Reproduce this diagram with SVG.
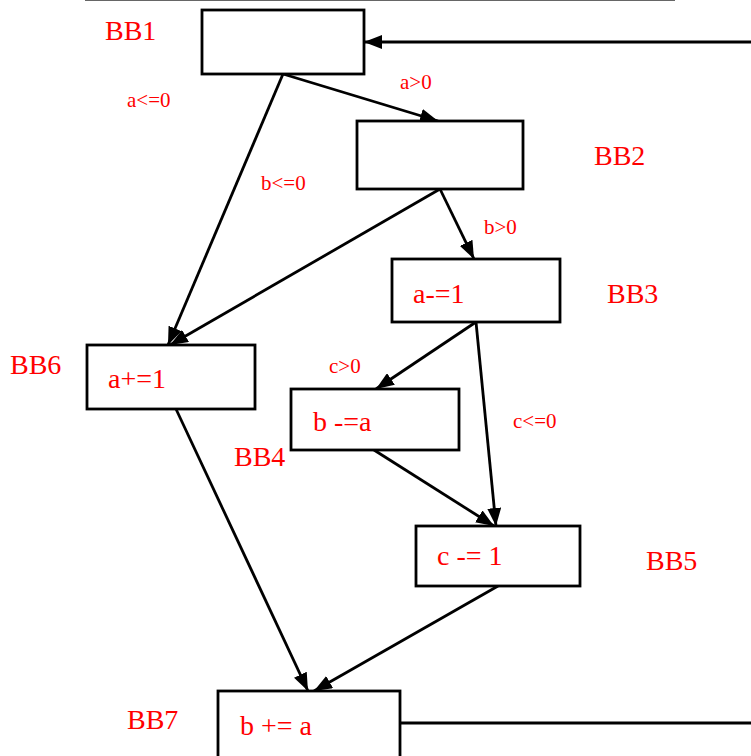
<svg xmlns="http://www.w3.org/2000/svg" width="751" height="756" viewBox="0 0 751 756">
  <style>
    .box { fill: #fff; stroke: #000; stroke-width: 2.8; }
    .edge { fill: none; stroke: #000; stroke-width: 2.8; }
    .name { font-family: "Liberation Serif", serif; font-size: 28px; fill: #ff0000; }
    .code { font-family: "Liberation Serif", serif; font-size: 28px; fill: #ff0000; }
    .cond { font-family: "Liberation Serif", serif; font-size: 21px; fill: #ff0000; }
  </style>
  <defs>
    <marker id="arrow" viewBox="0 0 18 14" refX="18" refY="7" markerWidth="18" markerHeight="14" markerUnits="userSpaceOnUse" orient="auto">
      <path d="M0,0 L18,7 L0,14 z" fill="#000"/>
    </marker>
  </defs>
  <rect width="751" height="756" fill="#fff"/>
  <line x1="85" y1="0.5" x2="675" y2="0.5" stroke="#666" stroke-width="1"/>

  <g id="connectors">
    <line class="edge" x1="283" y1="74" x2="438" y2="121" marker-end="url(#arrow)"/>
    <line class="edge" x1="283" y1="74" x2="168" y2="345" marker-end="url(#arrow)"/>
    <line class="edge" x1="440" y1="189" x2="474" y2="259" marker-end="url(#arrow)"/>
    <line class="edge" x1="440" y1="189" x2="170" y2="345" marker-end="url(#arrow)"/>
    <line class="edge" x1="476" y1="322" x2="376" y2="389" marker-end="url(#arrow)"/>
    <line class="edge" x1="476" y1="322" x2="496" y2="526" marker-end="url(#arrow)"/>
    <line class="edge" x1="374" y1="450" x2="494" y2="526" marker-end="url(#arrow)"/>
    <line class="edge" x1="176" y1="409" x2="308" y2="691" marker-end="url(#arrow)"/>
    <line class="edge" x1="498" y1="586" x2="314" y2="691" marker-end="url(#arrow)"/>
    <line class="edge" x1="400" y1="723" x2="751" y2="723"/>
    <line class="edge" x1="751" y1="42" x2="364" y2="42" marker-end="url(#arrow)"/>
  </g>

  <g id="bb1">
    <rect class="box" x="202" y="10" width="162" height="64"/>
    <text class="name" x="105" y="40">BB1</text>
  </g>
  <g id="bb2">
    <rect class="box" x="357" y="121" width="166" height="68"/>
    <text class="name" x="594" y="165">BB2</text>
  </g>
  <g id="bb3">
    <rect class="box" x="392" y="259" width="168" height="63"/>
    <text class="code" x="413" y="303">a-=1</text>
    <text class="name" x="607" y="303">BB3</text>
  </g>
  <g id="bb4">
    <rect class="box" x="291" y="389" width="168" height="61"/>
    <text class="code" x="313" y="431">b -=a</text>
    <text class="name" x="234" y="466">BB4</text>
  </g>
  <g id="bb5">
    <rect class="box" x="416" y="526" width="164" height="60"/>
    <text class="code" x="437" y="565">c -= 1</text>
    <text class="name" x="646" y="570">BB5</text>
  </g>
  <g id="bb6">
    <rect class="box" x="87" y="345" width="168" height="64"/>
    <text class="code" x="108" y="388">a+=1</text>
    <text class="name" x="10" y="374">BB6</text>
  </g>
  <g id="bb7">
    <rect class="box" x="218" y="691" width="182" height="70"/>
    <text class="code" x="240" y="735">b += a</text>
    <text class="name" x="127" y="729">BB7</text>
  </g>

  <g id="conditions">
    <text class="cond" x="127" y="107">a&lt;=0</text>
    <text class="cond" x="400" y="89">a&gt;0</text>
    <text class="cond" x="261" y="190">b&lt;=0</text>
    <text class="cond" x="484" y="234">b&gt;0</text>
    <text class="cond" x="329" y="373">c&gt;0</text>
    <text class="cond" x="513" y="428">c&lt;=0</text>
  </g>
</svg>
